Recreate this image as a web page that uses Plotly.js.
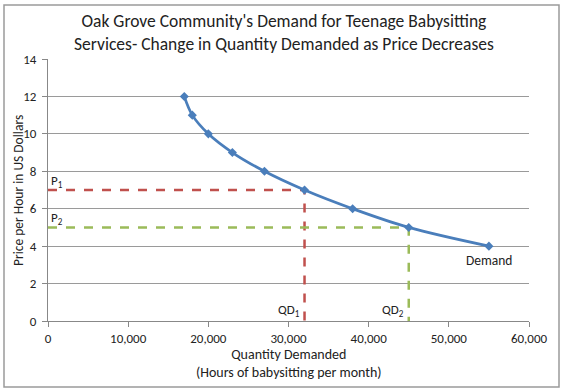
<!DOCTYPE html>
<html><head><meta charset="utf-8">
<script src="https://cdn.plot.ly/plotly-3.0.1.min.js"></script>
<style>body{margin:0}#c{width:565px;height:392px}</style></head>
<body><div id="c"></div>
<script>
var quantity = [17000, 18000, 20000, 23000, 27000, 32000, 38000, 45000, 55000];
var price = [12, 11, 10, 9, 8, 7, 6, 5, 4];
var p1 = 7, qd1 = 32000;
var p2 = 5, qd2 = 45000;
var xTicks = [0, 10000, 20000, 30000, 40000, 50000, 60000];
var xTickLabels = ['0', '10,000', '20,000', '30,000', '40,000', '50,000', '60,000'];
var yTicks = [0, 2, 4, 6, 8, 10, 12, 14];
var titleText = "Oak Grove Community's Demand for Teenage Babysitting<br>Services- Change in Quantity Demanded as Price Decreases";
var xTitleText = 'Quantity Demanded<br>(Hours of babysitting per month)';
var yTitleText = 'Price per Hour in US Dollars';

var F = 'Carlito, Calibri, "Open Sans", "Liberation Sans", sans-serif';
var traces = [
  {x: [0, qd1, qd1], y: [p1, p1, 0], mode: 'lines', line: {color: '#C0504D', width: 2.5, dash: 'dash'}, hoverinfo: 'none'},
  {x: [0, qd2, qd2], y: [p2, p2, 0], mode: 'lines', line: {color: '#9BBB59', width: 2.5, dash: 'dash'}, hoverinfo: 'none'},
  {x: quantity, y: price, mode: 'lines+markers', line: {color: '#4A7EBB', width: 2.75, shape: 'spline'},
   marker: {symbol: 'diamond', size: 7, color: '#4A7EBB'}}
];
var layout = {
  width: 565, height: 392,
  margin: {l: 48, r: 36, t: 59, b: 71},
  showlegend: false,
  paper_bgcolor: '#fff', plot_bgcolor: '#fff',
  font: {family: F, color: '#222', size: 13},
  xaxis: {range: [0, 60000], tickvals: xTicks, ticktext: xTickLabels, showgrid: false, zeroline: false,
    showline: true, linecolor: '#888', ticks: 'outside', ticklen: 5, tickcolor: '#888',
    tickfont: {size: 13, family: F}},
  yaxis: {range: [0, 14], tickvals: yTicks, showgrid: true, gridcolor: '#9a9a9a', zeroline: false,
    showline: true, linecolor: '#888', ticks: 'outside', ticklen: 5, tickcolor: '#888',
    tickfont: {size: 13, family: F}, ticklabelstandoff: 3},
  annotations: [
    {x: 0.49, y: 1 + 26 / 262, xref: 'paper', yref: 'paper', text: titleText, showarrow: false, xanchor: 'center', yanchor: 'middle',
     font: {size: 17.5, family: F, color: '#222'}},
    {x: 0.5, y: -43 / 262, xref: 'paper', yref: 'paper', text: xTitleText, showarrow: false, xanchor: 'center', yanchor: 'middle',
     font: {size: 14, family: F, color: '#222'}},
    {x: -30 / 481, y: 0.496, xref: 'paper', yref: 'paper', text: yTitleText, showarrow: false, textangle: -90, xanchor: 'center', yanchor: 'middle',
     font: {size: 13.5, family: F, color: '#222'}},
    {x: 0, y: p1, xref: 'x', yref: 'y', text: 'P<sub>1</sub>', showarrow: false, xanchor: 'left', yanchor: 'bottom', xshift: 1, yshift: -2, font: {size: 13, family: F}},
    {x: 0, y: p2, xref: 'x', yref: 'y', text: 'P<sub>2</sub>', showarrow: false, xanchor: 'left', yanchor: 'bottom', xshift: 1, yshift: -2, font: {size: 13, family: F}},
    {x: qd1, y: 0, xref: 'x', yref: 'y', text: 'QD<sub>1</sub>', showarrow: false, xanchor: 'right', yanchor: 'bottom', xshift: -3, yshift: 0, font: {size: 13, family: F}},
    {x: qd2, y: 0, xref: 'x', yref: 'y', text: 'QD<sub>2</sub>', showarrow: false, xanchor: 'right', yanchor: 'bottom', xshift: -3, yshift: 0, font: {size: 13, family: F}},
    {x: quantity[quantity.length - 1], y: price[price.length - 1], xref: 'x', yref: 'y', text: 'Demand', showarrow: false, xanchor: 'center', yanchor: 'top', yshift: -4, font: {size: 13.5, family: F}}
  ],
  shapes: [{type: 'rect', xref: 'paper', yref: 'paper',
    x0: -44 / 481, x1: 1 + 30 / 481, y0: -66 / 262, y1: 1 + 54 / 262,
    line: {color: '#9a9a9a', width: 1.5}}]
};
Plotly.newPlot('c', traces, layout, {displayModeBar: false, staticPlot: true});
</script></body></html>
